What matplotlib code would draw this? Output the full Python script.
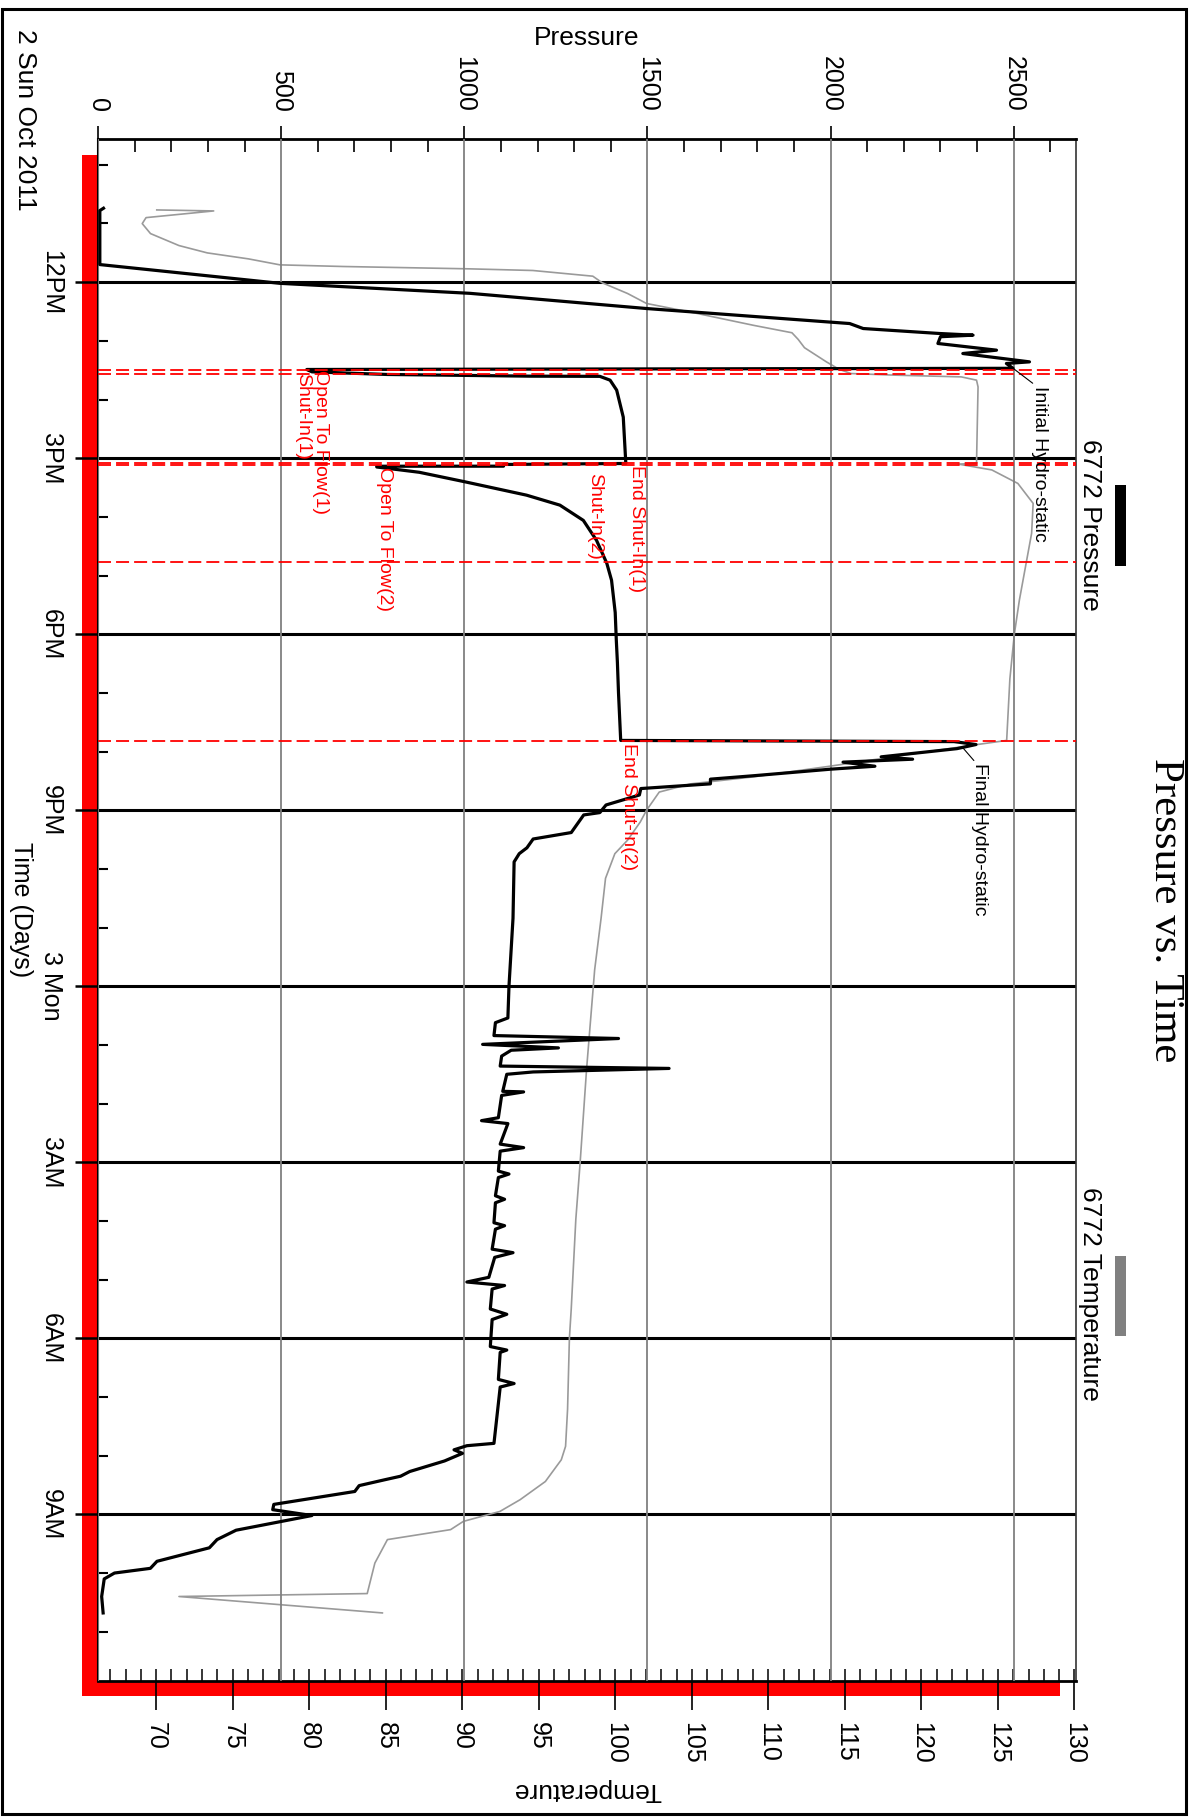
import matplotlib
matplotlib.use('Agg')
import matplotlib.pyplot as plt
from matplotlib.patches import Rectangle
import numpy as np

plt.rcParams['font.family'] = ['Liberation Sans', 'DejaVu Sans']

# ---------------- data (time in hours after 12PM, 2 Oct 2011) ----------------
pres_time_h = [-1.26, -1.22, -0.30, 0.02, 0.19, 0.45, 0.68, 0.705, 0.79, 0.875, 0.903, 0.93,
               1.045, 1.159, 1.216, 1.358, 1.386, 1.468, 1.488, 1.528, 1.573, 1.602, 1.605,
               1.67, 1.84, 2.30, 3.09, 3.107, 3.136, 3.137, 3.15, 3.24, 3.40, 3.63, 3.80,
               4.06, 4.40, 4.79, 5.08, 5.63, 6.10, 6.48, 7.0, 7.81, 7.82, 7.83, 7.88, 7.95,
               8.09, 8.13, 8.18, 8.25, 8.30, 8.41, 8.47, 8.55, 8.63, 8.74, 8.91, 9.04, 9.08,
               9.23, 9.38, 9.49, 9.64, 9.74, 9.88, 10.84, 12.0, 12.54, 12.62, 12.84, 12.89,
               12.99, 13.05, 13.09, 13.19, 13.36, 13.40, 13.46, 13.50, 13.79, 13.80, 13.86,
               14.24, 14.29, 14.34, 14.69, 14.75, 14.81, 15.15, 15.20, 15.26, 15.57, 15.63,
               15.69, 16.03, 16.08, 16.14, 16.48, 16.54, 16.62, 16.96, 17.04, 17.10, 17.16,
               17.50, 17.59, 17.68, 18.14, 18.20, 18.24, 18.70, 18.77, 18.83, 19.79, 19.83,
               19.90, 19.96, 20.09, 20.27, 20.35, 20.41, 20.51, 20.61, 20.83, 20.92, 21.02,
               21.27, 21.43, 21.57, 21.80, 21.92, 22.00, 22.10, 22.40, 22.68]
pres_psi = [15, 5, 5, 497, 1015, 1499, 2000, 2052, 2089, 2298, 2389, 2300,
            2293, 2453, 2361, 2543, 2480, 2498, 570, 584, 789, 1180, 1370,
            1398, 1416, 1434, 1441, 1107, 1107, 761, 761, 877, 1000, 1170, 1261,
            1325, 1361, 1389, 1402, 1412, 1415, 1418, 1421, 1427, 1879, 2337, 2397, 2345,
            2138, 2224, 2034, 2121, 2000, 1793, 1672, 1672, 1482, 1478, 1387, 1370, 1326,
            1309, 1292, 1188, 1171, 1150, 1136, 1133, 1122, 1119, 1085, 1081, 1421,
            1050, 1257, 1128, 1102, 1098, 1559, 1188, 1116, 1105, 1162, 1102,
            1093, 1047, 1119, 1098, 1162, 1098, 1093, 1122, 1093, 1085, 1110,
            1085, 1081, 1110, 1085, 1076, 1133, 1083, 1067, 1007, 1110, 1076,
            1071, 1116, 1076, 1071, 1116, 1098, 1093, 1136, 1098, 1081, 1007,
            972, 995, 946, 851, 826, 783, 713, 701, 480, 477, 584,
            377, 325, 304, 161, 143, 45, 17, 10, 14]

temp_time_h = [-1.231, -1.214, -1.100, -0.998, -0.828, -0.624, -0.499, -0.397, -0.295, -0.267,
               -0.227, -0.199, -0.102, 0.011, 0.193, 0.363, 0.533, 0.737, 0.862, 0.976, 1.117,
               1.361, 1.486, 1.557, 1.585, 1.614, 1.670, 1.785, 3.09, 3.10, 3.20, 3.43, 3.77,
               4.28, 4.85, 5.42, 6.0, 6.76, 7.81, 7.90, 8.04, 8.25, 8.43, 8.55, 8.69, 9.0,
               9.20, 9.51, 9.74, 10.16, 10.84, 11.72, 13.42, 15.01, 15.97, 17.50, 18.0,
               19.21, 19.84, 20.07, 20.44, 20.75, 20.95, 21.12, 21.26, 21.43, 21.83, 22.35,
               22.40, 22.68]
temp_f = [70.04, 73.76, 69.34, 69.09, 69.63, 71.49, 73.34, 76.03, 78.09, 82.22,
          90.48, 94.61, 98.53, 99.15, 100.80, 102.04, 105.34, 109.06, 111.54, 111.95, 112.36,
          113.81, 114.63, 115.4, 118.3, 122.6, 123.6, 123.7, 123.6, 122.4, 124.6, 126.3, 127.3,
          127.2, 126.8, 126.4, 126.07, 125.78, 125.57, 123.1, 119.4, 114.0, 109.06, 104.93, 102.87, 102.04,
          101.63, 100.80, 99.97, 99.36, 99.07, 98.65, 98.12, 97.70, 97.42, 97.12, 97.0,
          96.88, 96.75, 96.47, 95.43, 93.78, 92.46, 90.07, 89.24, 85.11, 84.29, 83.79,
          71.49, 84.78]

event_names = ['Open To Flow(1)', 'Shut-In(1)', 'End Shut-In(1)', 'Open To Flow(2)',
               'Shut-In(2)', 'End Shut-In(2)']
event_times_h = [1.49, 1.565, 3.09, 3.115, 4.77, 7.817]
event_label_psi = [607, 558, 1469, 782, 1355, 1447]
event_label_time_h = [1.50, 1.556, 3.12, 3.15, 4.74, 7.86]
event_label_align = ['left', 'left', 'left', 'left', 'right', 'left']

hydro_names = ['Initial Hydro-static', 'Final Hydro-static']
hydro_psi = [2494, 2359]
hydro_time_h = [1.448, 7.92]
hydro_label_psi = [2571, 2407]
hydro_label_time_h = [1.77, 8.20]

time_major_h = [0, 3, 6, 9, 12, 15, 18, 21]
time_labels = ['12PM', '3PM', '6PM', '9PM', '3 Mon', '3AM', '6AM', '9AM']
pressure_ticks = [0, 500, 1000, 1500, 2000, 2500]
temperature_ticks = [70, 75, 80, 85, 90, 95, 100, 105, 110, 115, 120, 125, 130]

# ---------------- layout ----------------
W, H = 1200, 1818
def fx(px):
    return px / W
def fy(py):
    return 1 - py / H

fig = plt.figure(figsize=(12, 18.18), dpi=100)
ax = fig.add_axes([fx(98), fy(1681), (1076 - 98) / W, (1681 - 139) / H])
ax.set_xlim(66.2, 130.1)
ax.set_ylim(23.84, -2.44)
ax2 = ax.twiny()
ax2.set_xlim(0, 2670)

# temperature (bottom axis) and pressure (top axis)
ax.plot(temp_f, temp_time_h, color='#9a9a9a', lw=1.2, zorder=3)
ax2.plot(pres_psi, pres_time_h, color='black', lw=2.3, zorder=3)

for t in event_times_h:
    ax2.axhline(t, color='red', lw=1.3, ls=(0, (7.2, 2.8)), zorder=4)

for name, p, t, ha in zip(event_names, event_label_psi, event_label_time_h, event_label_align):
    ax2.text(p, t, name, color='red', fontsize=14, rotation=-90, rotation_mode='anchor',
             ha=ha, va='center', zorder=5)

for name, p, t, lp, lt in zip(hydro_names, hydro_psi, hydro_time_h, hydro_label_psi, hydro_label_time_h):
    ax2.annotate(name, xy=(p, t), xytext=(lp, lt), fontsize=14, rotation=-90,
                 rotation_mode='anchor', ha='left', va='center', zorder=5,
                 arrowprops=dict(arrowstyle='-', color='black', lw=0.8,
                                 relpos=(0.3, 1.0), shrinkA=0, shrinkB=0))

# time axis (left)
ax.set_yticks(time_major_h, labels=time_labels, rotation=-90, va='center', fontsize=18)
ax.set_yticks(np.arange(-2, 24), minor=True)
ax.tick_params(axis='y', which='major', direction='out', length=16.5, width=1.8, pad=8.6)
ax.tick_params(axis='y', which='minor', direction='in', length=7, width=1.5)
ax.grid(axis='y', which='major', color='black', lw=2.2)

# temperature axis (bottom)
ax.set_xticks(temperature_ticks, labels=[str(v) for v in temperature_ticks], rotation=-90, fontsize=18)
ax.set_xticks(np.arange(67, 131), minor=True)
ax.xaxis.remove_overlapping_locs = False
ax.tick_params(axis='x', which='major', direction='out', length=21, width=1.2, pad=8.6)
ax.tick_params(axis='x', which='minor', direction='in', length=8.6, width=1.1)

# pressure axis (top)
ax2.set_xticks(pressure_ticks, labels=[str(v) for v in pressure_ticks], rotation=-90, fontsize=18)
ax2.set_xticks(np.arange(100, 2670, 100), minor=True)
ax2.tick_params(axis='x', which='major', direction='out', length=9.4, width=1.2, pad=10)
ax2.tick_params(axis='x', which='minor', direction='in', length=9.4, width=1.2)
ax2.grid(axis='x', which='major', color='#808080', lw=1.3)

for s in ax2.spines.values():
    s.set_visible(False)
ax.spines['top'].set_linewidth(2.0)
ax.spines['bottom'].set_linewidth(2.0)
ax.spines['left'].set_linewidth(1.5)
ax.spines['right'].set_linewidth(1.2)
ax.spines['right'].set_color('#333333')

# red range bars
ax.add_patch(Rectangle((-0.0164, 0), 0.0164, 0.9896, transform=ax.transAxes,
                       color='red', clip_on=False, zorder=0.5, lw=0))
ax.add_patch(Rectangle((-0.0164, -0.0100), 1.0, 0.0100, transform=ax.transAxes,
                       color='red', clip_on=False, zorder=0.5, lw=0))

# texts
fig.text(fx(587), fy(38), 'Pressure', fontsize=19, ha='center', va='center')
fig.text(fx(587), fy(1790), 'Temperature', fontsize=19, ha='center', va='center', rotation=180)
fig.text(fx(21), fy(910), 'Time (Days)', fontsize=18, ha='center', va='center', rotation=-90)
fig.text(fx(25), fy(29), '2 Sun Oct 2011', fontsize=19, ha='center', va='top', rotation=-90)
fig.text(fx(1165), fy(910), 'Pressure vs. Time', family=['Liberation Serif', 'DejaVu Serif'],
         fontsize=31, ha='center', va='center', rotation=-90)
fig.text(fx(1090), fy(525), '6772 Pressure', fontsize=19, ha='center', va='center', rotation=-90)
fig.text(fx(1090), fy(1294), '6772 Temperature', fontsize=19, ha='center', va='center', rotation=-90)
fig.add_artist(Rectangle((fx(1115), fy(566)), 11 / W, 81 / H, transform=fig.transFigure,
                         color='black', lw=0))
fig.add_artist(Rectangle((fx(1115), fy(1336)), 11 / W, 80 / H, transform=fig.transFigure,
                         color='#808080', lw=0))
fig.add_artist(Rectangle((fx(2), fy(1814)), fx(1186) - fx(2), fy(9) - fy(1814),
                         transform=fig.transFigure, fill=False, lw=2.2, ec='black'))

fig.savefig('out.png', dpi=100)
